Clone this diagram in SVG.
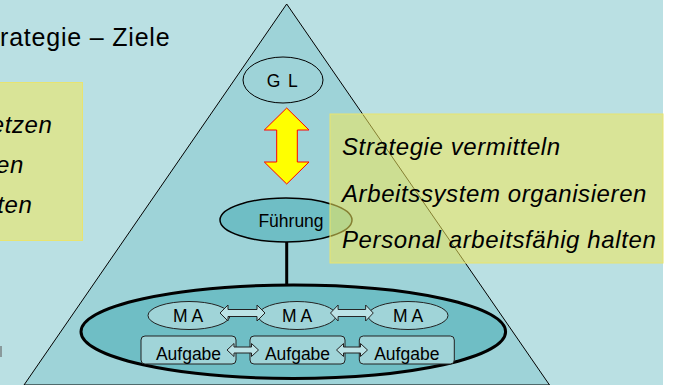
<svg xmlns="http://www.w3.org/2000/svg" width="681" height="385" viewBox="0 0 681 385">
<style>
text{font-family:"Liberation Sans",Arial,sans-serif;fill:#000}
.it{font-style:italic;font-size:24px;letter-spacing:0.6px}
.lbl{font-size:17.5px;text-anchor:middle}
.note{fill:#F2E85A;fill-opacity:0.55;stroke:#E8E470;stroke-width:1}
.ma{fill:#A0D4D8;stroke:#222;stroke-width:1}
.task{fill:#A0D4D8;stroke:#222;stroke-width:1}
.dbl{fill:#BCE3E6;stroke:#222;stroke-width:1}
</style>
<defs>
<path id="dblMA" d="M0,0 L8,-8 L8,-3.5 L37,-3.5 L37,-8 L45,0 L37,8 L37,3.5 L8,3.5 L8,8 Z"/>
</defs>
<rect x="0" y="0" width="663" height="385" fill="#BAE0E3"/>
<rect x="663" y="0" width="18" height="385" fill="#FFFFFF"/>
<rect x="0" y="346" width="2" height="11" fill="#8A9A9C"/>
<g id="pyramid">
<polygon points="286.7,4 24,385 549.5,385" fill="#9ED3D8" stroke="#000" stroke-width="1"/>
</g>
<g id="title">
<text x="0" y="46" font-size="25" letter-spacing="0.8">rategie – Ziele</text>
</g>
<g id="gl">
<ellipse cx="283" cy="80" rx="40" ry="23" fill="#9ED3D8" stroke="#000" stroke-width="1"/>
<text class="lbl" x="283" y="87" font-size="18" letter-spacing="1.5">G L</text>
</g>
<g id="connectors">
<polygon points="286.7,108 309,130 297.3,130 297.3,162 309,162 286.7,184 264.3,162 276.7,162 276.7,130 264.3,130" fill="#FFFF00" stroke="#FF0000" stroke-width="1"/>
<line x1="286.7" y1="242" x2="286.7" y2="287" stroke="#000" stroke-width="3"/>
</g>
<g id="fuehrung">
<ellipse cx="286" cy="220" rx="66" ry="22" fill="#6FBEC5" stroke="#000" stroke-width="1.5"/>
<text class="lbl" x="291" y="227" font-size="19.5">Führung</text>
</g>
<g id="team">
<ellipse cx="293.3" cy="331.7" rx="212.3" ry="46.7" fill="#6FBEC5" stroke="#000" stroke-width="3"/>
</g>
<g id="ma1"><ellipse class="ma" cx="189" cy="315.5" rx="41" ry="14"/><text class="lbl" x="188" y="321.5" font-size="17">M A</text></g>
<g id="ma2"><ellipse class="ma" cx="297" cy="315.5" rx="39" ry="14"/><text class="lbl" x="297" y="321.5" font-size="17">M A</text></g>
<g id="ma3"><ellipse class="ma" cx="408" cy="315.5" rx="40" ry="14"/><text class="lbl" x="408" y="321.5" font-size="17">M A</text></g>
<g id="task1"><rect class="task" x="141" y="336" width="95" height="28" rx="4"/><text class="lbl" x="188.5" y="359.5">Aufgabe</text></g>
<g id="task2"><rect class="task" x="250" y="336" width="95" height="28" rx="4"/><text class="lbl" x="297.5" y="359.5">Aufgabe</text></g>
<g id="task3"><rect class="task" x="359.3" y="336" width="95" height="28" rx="4"/><text class="lbl" x="406.8" y="359.5">Aufgabe</text></g>
<g id="links">
<use href="#dblMA" class="dbl" transform="translate(220,313)"/>
<use href="#dblMA" class="dbl" transform="translate(330.5,313) scale(0.95,1)"/>
<path class="dbl" transform="translate(227,350)" d="M0,0 L7,-6.5 L7,-3 L24.5,-3 L24.5,-6.5 L31.5,0 L24.5,6.5 L24.5,3 L7,3 L7,6.5 Z"/>
<path class="dbl" transform="translate(336.5,350)" d="M0,0 L7,-6.5 L7,-3 L24,-3 L24,-6.5 L31,0 L24,6.5 L24,3 L7,3 L7,6.5 Z"/>
</g>
<g id="noteLeft">
<rect class="note" x="-2" y="82.5" width="84.5" height="158"/>
<text class="it" x="52.5" y="133" text-anchor="end">etzen</text>
<text class="it" x="24" y="173" text-anchor="end">en</text>
<text class="it" x="32.5" y="213" text-anchor="end">ften</text>
</g>
<g id="noteRight">
<rect class="note" x="330" y="114" width="333" height="149"/>
<text class="it" x="342" y="155">Strategie vermitteln</text>
<text class="it" x="342" y="201.5">Arbeitssystem organisieren</text>
<text class="it" x="342" y="248">Personal arbeitsfähig halten</text>
</g>
</svg>
